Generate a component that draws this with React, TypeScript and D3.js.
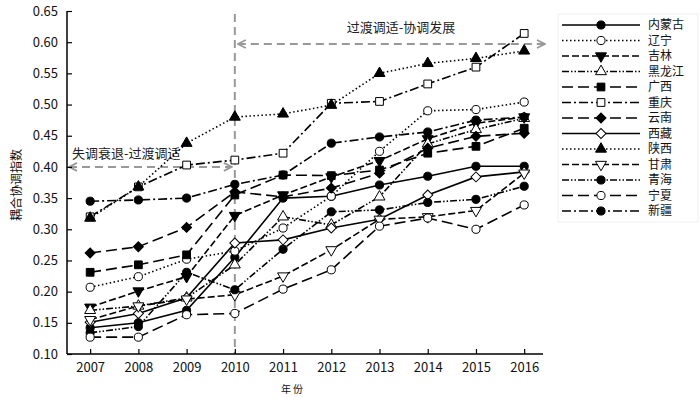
import React, { useEffect, useRef } from "react";
import * as d3 from "d3";

// years on the x axis
const years = [2007, 2008, 2009, 2010, 2011, 2012, 2013, 2014, 2015, 2016];
const yTicks = [0.1, 0.15, 0.2, 0.25, 0.3, 0.35, 0.4, 0.45, 0.5, 0.55, 0.6, 0.65];

// coupling coordination index per province
const neimenggu = [0.142, 0.15, 0.17, 0.255, 0.35, 0.353, 0.371, 0.385, 0.401, 0.401];
const liaoning = [0.207, 0.224, 0.252, 0.265, 0.302, 0.353, 0.425, 0.49, 0.492, 0.504];
const jilin = [0.175, 0.201, 0.224, 0.322, 0.355, 0.384, 0.41, 0.445, 0.47, 0.48];
const heilongjiang = [0.17, 0.177, 0.19, 0.243, 0.32, 0.307, 0.352, 0.437, 0.46, 0.478];
const guangxi = [0.231, 0.243, 0.259, 0.355, 0.387, 0.386, 0.395, 0.422, 0.433, 0.462];
const chongqing = [0.32, 0.368, 0.403, 0.411, 0.422, 0.502, 0.505, 0.533, 0.56, 0.614];
const yunnan = [0.262, 0.272, 0.303, 0.36, 0.352, 0.366, 0.39, 0.43, 0.449, 0.454];
const xizang = [0.151, 0.165, 0.19, 0.278, 0.283, 0.302, 0.316, 0.355, 0.384, 0.392];
const shaanxi = [0.318, 0.368, 0.438, 0.48, 0.485, 0.499, 0.55, 0.566, 0.574, 0.586];
const gansu = [0.155, 0.177, 0.188, 0.195, 0.225, 0.267, 0.316, 0.32, 0.33, 0.39];
const qinghai = [0.134, 0.144, 0.231, 0.203, 0.268, 0.328, 0.331, 0.343, 0.348, 0.369];
const ningxia = [0.127, 0.127, 0.163, 0.165, 0.204, 0.235, 0.305, 0.318, 0.3, 0.339];
const xinjiang = [0.345, 0.347, 0.35, 0.372, 0.387, 0.438, 0.448, 0.456, 0.475, 0.48];

const names = ["内蒙古", "辽宁", "吉林", "黑龙江", "广西", "重庆", "云南", "西藏", "陕西", "甘肃", "青海", "宁夏", "新疆"];
const values = [neimenggu, liaoning, jilin, heilongjiang, guangxi, chongqing, yunnan, xizang, shaanxi, gansu, qinghai, ningxia, xinjiang];

// line style + marker per series
const dashes = ["", "1.5,2.5", "7,3", "7,2,1.5,2,1.5,2", "11,5", "9,3,2,3", "11,5", "", "1.5,2.5", "7,3", "7,2,1.5,2,1.5,2", "11,5", "9,3,2,3"];
const shapes = ["circle", "circle", "down", "up", "square", "square", "diamond", "diamond", "up", "down", "circle", "circle", "circle"];
const filled = [true, false, true, false, true, false, true, false, true, false, true, false, true];

const symbolFor = (s: string) => {
    if (s === "circle") return d3.symbol().type(d3.symbolCircle).size(52)();
    if (s === "square") return d3.symbol().type(d3.symbolSquare).size(60)();
    if (s === "diamond") return d3.symbol().type(d3.symbolSquare).size(50)();
    return d3.symbol().type(d3.symbolTriangle).size(52)();
};
const rotFor = (s: string) => (s === "down" ? 180 : s === "diamond" ? 45 : 0);

const FONT = "'Noto Sans CJK SC', 'Noto Sans', sans-serif";

const App = () => {
    const svgRef = useRef<SVGSVGElement>(null);

    useEffect(() => {
        const svg = d3.select(svgRef.current);
        svg.selectAll("*").remove();

        const xScale = d3.scaleLinear().domain([2006.52, 2016.39]).range([67, 543]);
        const yScale = d3.scaleLinear().domain([0.1, 0.65]).range([354, 11]);

        svg.append("rect").attr("width", 700).attr("height", 397).attr("fill", "#fff");

        const defs = svg.append("defs");
        defs.append("marker")
            .attr("id", "chev")
            .attr("viewBox", "0 0 10 10")
            .attr("refX", 9)
            .attr("refY", 5)
            .attr("markerWidth", 10)
            .attr("markerHeight", 10)
            .attr("markerUnits", "userSpaceOnUse")
            .attr("orient", "auto-start-reverse")
            .append("path")
            .attr("d", "M1,1 L9,5 L1,9")
            .attr("fill", "none")
            .attr("stroke", "#999")
            .attr("stroke-width", 1.8);

        // stage divider and arrows
        svg.append("line")
            .attr("x1", xScale(2010)).attr("x2", xScale(2010))
            .attr("y1", 14).attr("y2", 354)
            .attr("stroke", "#999").attr("stroke-width", 2).attr("stroke-dasharray", "8,5");
        svg.append("line")
            .attr("x1", 69).attr("x2", xScale(2010) - 3)
            .attr("y1", yScale(0.4)).attr("y2", yScale(0.4))
            .attr("stroke", "#999").attr("stroke-width", 2).attr("stroke-dasharray", "8,5")
            .attr("marker-start", "url(#chev)").attr("marker-end", "url(#chev)");
        svg.append("line")
            .attr("x1", xScale(2010) + 3).attr("x2", 545)
            .attr("y1", 44).attr("y2", 44)
            .attr("stroke", "#999").attr("stroke-width", 2).attr("stroke-dasharray", "8,5")
            .attr("marker-start", "url(#chev)").attr("marker-end", "url(#chev)");
        svg.append("text").attr("x", 72).attr("y", 158)
            .attr("font-family", FONT).attr("font-size", 13).attr("fill", "#222")
            .text("失调衰退-过渡调适");
        svg.append("text").attr("x", 401).attr("y", 32).attr("text-anchor", "middle")
            .attr("font-family", FONT).attr("font-size", 13).attr("fill", "#222")
            .text("过渡调适-协调发展");

        // axes
        const yAxis = svg.append("g")
            .attr("transform", "translate(67,0)")
            .call(d3.axisRight(yScale).tickValues(yTicks).tickSize(5).tickFormat(d3.format(".2f")));
        yAxis.select(".domain").attr("stroke", "#000").attr("stroke-width", 1.5).attr("d", "M0,11V354");
        yAxis.selectAll(".tick line").attr("stroke", "#000").attr("stroke-width", 1.2);
        yAxis.selectAll("text")
            .attr("x", -9).attr("text-anchor", "end")
            .attr("font-family", FONT).attr("font-size", 13).attr("fill", "#111");

        const xAxis = svg.append("g")
            .attr("transform", "translate(0,354)")
            .call(d3.axisTop(xScale).tickValues(years).tickSize(5).tickFormat(d3.format("d")));
        xAxis.select(".domain").attr("stroke", "#000").attr("stroke-width", 1.5).attr("d", "M67,0H543");
        xAxis.selectAll(".tick line").attr("stroke", "#000").attr("stroke-width", 1.2);
        xAxis.selectAll("text")
            .attr("y", 9).attr("dy", "0.71em")
            .attr("font-family", FONT).attr("font-size", 13).attr("fill", "#111");

        svg.append("text").attr("x", 292).attr("y", 393).attr("text-anchor", "middle")
            .attr("font-family", FONT).attr("font-size", 10).attr("fill", "#111")
            .text("年 份");
        svg.append("text")
            .attr("transform", "translate(21,185) rotate(-90)")
            .attr("text-anchor", "middle")
            .attr("font-family", FONT).attr("font-size", 12).attr("fill", "#111")
            .text("耦合协调指数");

        const line = d3.line<number>()
            .x((d, i) => xScale(years[i]))
            .y((d) => yScale(d));

        const plot = svg.append("g");
        values.forEach((vals, k) => {
            plot.append("path")
                .datum(vals)
                .attr("fill", "none")
                .attr("stroke", "#000")
                .attr("stroke-width", 1.6)
                .attr("stroke-dasharray", dashes[k] || null)
                .attr("d", line);
        });
        values.forEach((vals, k) => {
            plot.selectAll(null)
                .data(vals)
                .enter()
                .append("path")
                .attr("d", symbolFor(shapes[k]))
                .attr("transform", (d, i) => `translate(${xScale(years[i])},${yScale(d)}) rotate(${rotFor(shapes[k])})`)
                .attr("fill", filled[k] ? "#000" : "#fff")
                .attr("stroke", "#000")
                .attr("stroke-width", 1);
        });

        // legend
        const legend = svg.append("g").attr("transform", "translate(562,25)");
        legend.append("rect")
            .attr("x", -4).attr("y", -11).attr("width", 140).attr("height", 208)
            .attr("fill", "none").attr("stroke", "#f0f0f0");
        names.forEach((name, k) => {
            const row = legend.append("g").attr("transform", `translate(0,${k * 15.5})`);
            row.append("line")
                .attr("x1", 0).attr("x2", 78)
                .attr("stroke", "#000").attr("stroke-width", 1.6)
                .attr("stroke-dasharray", dashes[k] || null);
            row.append("path")
                .attr("d", symbolFor(shapes[k]))
                .attr("transform", `translate(39,0) rotate(${rotFor(shapes[k])})`)
                .attr("fill", filled[k] ? "#000" : "#fff")
                .attr("stroke", "#000");
            row.append("text")
                .attr("x", 86).attr("dy", "0.36em")
                .attr("font-family", FONT).attr("font-size", 12).attr("fill", "#111")
                .text(name);
        });
    }, []);

    return (
        <svg
            ref={svgRef}
            width={700}
            height={397}
            style={{ position: "absolute", left: 0, top: 0 }}
        ></svg>
    );
};

export default App;
